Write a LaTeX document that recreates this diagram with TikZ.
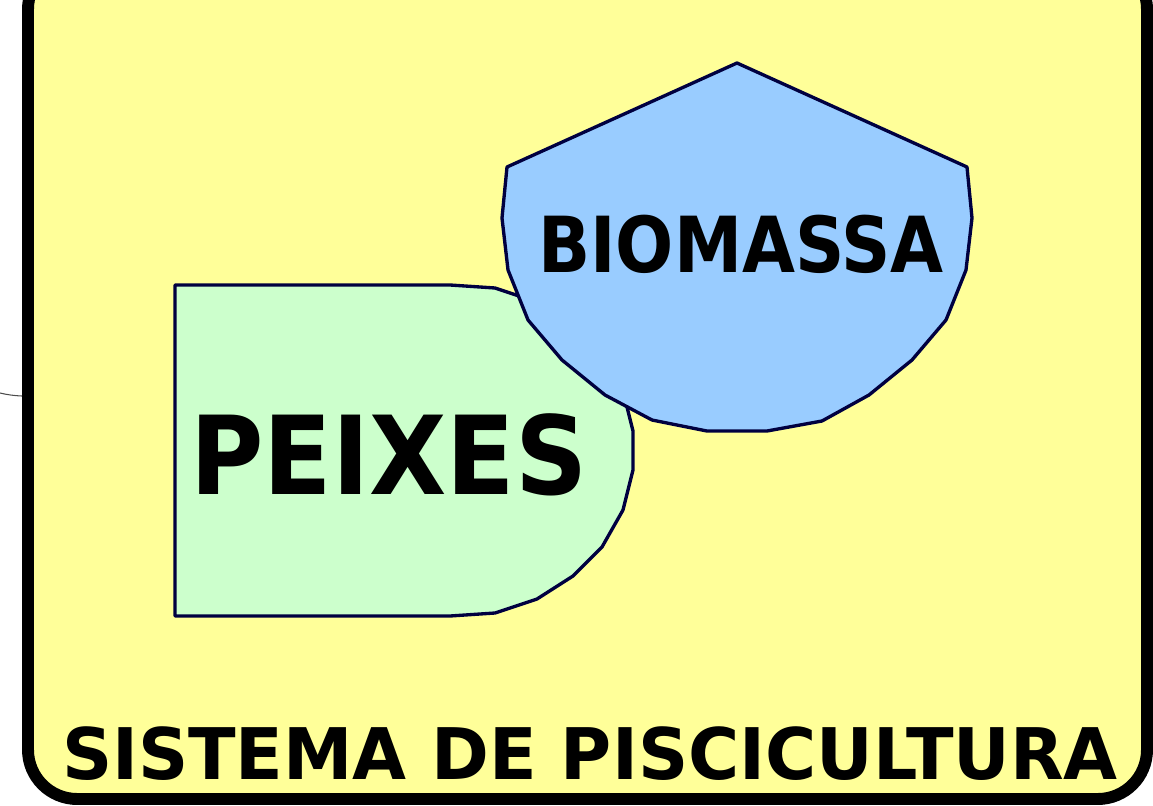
\documentclass[tikz,border=0pt]{standalone}
\usepackage{fontspec}
\setmainfont{DejaVu Sans}
\usetikzlibrary{positioning, calc}
\definecolor{PanelFill}{HTML}{FFFF99}
\definecolor{FishFill}{HTML}{CCFFCC}
\definecolor{MassFill}{HTML}{99CCFF}
\definecolor{EdgeInk}{HTML}{000040}

\begin{document}
\begin{tikzpicture}[
    x=0.02cm, y=-0.02cm,
    panel/.style={
      draw=black,
      fill=PanelFill,
      line width=6.8pt,
      rounded corners=28pt,
    },
    blob/.style={
      draw=EdgeInk,
      line width=1.9pt,
      line join=round,
    },
    tag/.style={
      font=\bfseries,
      text=black,
      inner sep=0pt,
    },
  ]
    \useasboundingbox (0,0) rectangle (1153,805);
    % panel
    \draw[panel] (28,-40) rectangle (1147,799);
    \coordinate (stub) at (0,393);
    \coordinate (panelw) at (22,396);
    \draw[gray!60!black, line width=0.6pt] (stub) to[bend right=5] (panelw);
    % peixes
    \draw[blob, fill=FishFill]
      (175,285) -- (450,285) -- (495,288) -- (537,302) -- (573,325)
      -- (602,354) -- (623,391) -- (633,431) -- (633,470) -- (623,510)
      -- (602,547) -- (573,576) -- (537,599) -- (495,613) -- (450,616)
      -- (175,616) -- cycle;
    % biomassa
    \draw[blob, fill=MassFill]
      (737,63) -- (967,167) -- (972,218) -- (966,270) -- (946,320)
      -- (912,360) -- (869,395) -- (822,421) -- (767,431) -- (707,431)
      -- (652,420) -- (605,395) -- (562,360) -- (528,320) -- (508,270)
      -- (502,218) -- (507,167) -- cycle;
    \node[tag, xscale=0.92, font=\bfseries\fontsize{62}{62}\selectfont] (peixes) at (389,455) {PEIXES};
    \node[tag, xscale=0.886, font=\bfseries\fontsize{44}{44}\selectfont] (biomassa) at (741,244) {BIOMASSA};
    \node[tag, xscale=0.98, font=\bfseries\fontsize{40.5}{40.5}\selectfont] (sistema) at (590,754) {SISTEMA DE PISCICULTURA};
  \end{tikzpicture}
\end{document}
